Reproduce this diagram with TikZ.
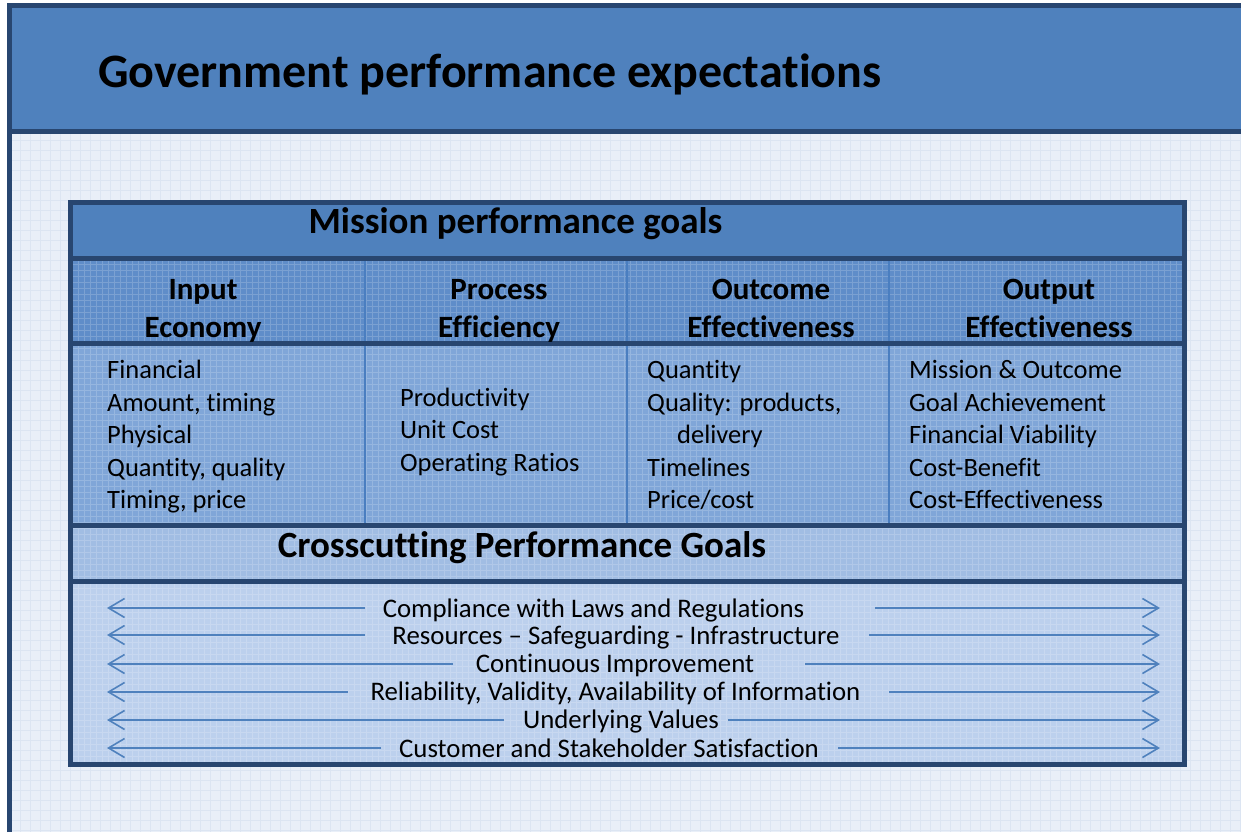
\documentclass[tikz,border=0pt]{standalone}
\usepackage{fontspec}
\setmainfont{Carlito}[Ligatures={NoCommon}]
\usetikzlibrary{arrows.meta}
\definecolor{dk}{HTML}{284670}
\definecolor{titlec}{HTML}{4F81BD}
\definecolor{bgc}{HTML}{E9EFF8}
\definecolor{bggrid}{HTML}{DCE5F2}
\definecolor{hdrc}{HTML}{5F8DC9}
\definecolor{cntc}{HTML}{80A6D8}
\definecolor{xhc}{HTML}{A1BDE3}
\definecolor{xbc}{HTML}{BCD0ED}
\definecolor{divc}{HTML}{4A7EC0}
\definecolor{arrc}{HTML}{4F81BD}
\begin{document}
\begin{tikzpicture}[x=1pt,y=-1pt,
  titlefont/.style={font=\fontsize{48}{56}\selectfont\bfseries, inner sep=0pt},
  bighead/.style={font=\fontsize{37}{44}\selectfont\bfseries, inner sep=0pt, anchor=base},
  colhead/.style={font=\fontsize{31}{36}\selectfont\bfseries, inner sep=0pt, anchor=base},
  celltext/.style={font=\fontsize{26.5}{30}\selectfont, inner sep=0pt, anchor=base west},
  crosstext/.style={font=\fontsize{26.8}{30}\selectfont, inner sep=0pt, anchor=base},
  arr/.style={-{Straight Barb[length=16pt,width=19pt]}, line width=1.6pt, draw=arrc},
  border/.style={draw=dk, line width=5pt},
  divider/.style={draw=divc, line width=1.5pt}]
\useasboundingbox (0,0) rectangle (1241,832);
% page and frame
\fill[white] (0,0) rectangle (1241,832);
\fill[bgc] (10,131) rectangle (1241,832);
\draw[bggrid, line width=0.7pt, step=10pt] (12,134) grid (1241,832);
\fill[titlec] (10,5) rectangle (1241,131);
\draw[border] (9.5,832) -- (9.5,5.5) -- (1241,5.5);
\draw[border] (7,131.5) -- (1241,131.5);
\node[titlefont, anchor=base west] (title) at (98,88) {Government performance expectations};
% table rows
\fill[titlec] (70,202) rectangle (1184,258);
\fill[hdrc] (70,258) rectangle (1184,343);
\fill[cntc] (70,343) rectangle (1184,525);
\fill[xhc] (70,525) rectangle (1184,581);
\fill[xbc] (70,581) rectangle (1184,765);
\draw[white, opacity=0.18, line width=0.6pt, step=6pt] (72,260) grid (1182,763);
\draw[divider] (365,258) -- (365,525);
\draw[divider] (627,258) -- (627,525);
\draw[divider] (889,258) -- (889,525);
\draw[border] (70.5,202.5) rectangle (1184,764.5);
\draw[border] (70.5,258) -- (1184,258);
\draw[border] (70.5,343.5) -- (1184,343.5);
\draw[border] (70.5,525) -- (1184,525);
\draw[border] (70.5,581) -- (1184,581);
% headings
\node[bighead] (mission) at (515.5,233) {Mission performance goals};
\node[colhead] (inA) at (203,299) {Input};
\node[colhead] (inB) at (203,337) {Economy};
\node[colhead] (prA) at (499,299) {Process};
\node[colhead] (prB) at (499,337) {Efficiency};
\node[colhead] (ocA) at (771,299) {Outcome};
\node[colhead] (ocB) at (771,337) {Effectiveness};
\node[colhead] (opA) at (1049,299) {Output};
\node[colhead] (opB) at (1049,337) {Effectiveness};
% column 1
\node[celltext] (a1) at (107,378) {Financial};
\node[celltext] (a2) at (107,411) {Amount, timing};
\node[celltext] (a3) at (107,443) {Physical};
\node[celltext] (a4) at (107,476) {Quantity, quality};
\node[celltext] (a5) at (107,508) {Timing, price};
% column 2
\node[celltext] (b1) at (400,406) {Productivity};
\node[celltext] (b2) at (400,438) {Unit Cost};
\node[celltext] (b3) at (400,471) {Operating Ratios};
% column 3
\node[celltext] (c1) at (647,378) {Quantity};
\node[celltext] (c2) at (647,411) {Quality: products,};
\node[celltext] (c3) at (677,443) {delivery};
\node[celltext] (c4) at (647,476) {Timelines};
\node[celltext] (c5) at (647,508) {Price/cost};
% column 4
\node[celltext] (d1) at (909,378) {Mission \& Outcome};
\node[celltext] (d2) at (909,411) {Goal Achievement};
\node[celltext] (d3) at (909,443) {Financial Viability};
\node[celltext] (d4) at (909,476) {Cost-Benefit};
\node[celltext] (d5) at (909,508) {Cost-Effectiveness};
% crosscutting
\node[bighead] (cross) at (522,557) {Crosscutting Performance Goals};
\node[crosstext] (x1) at (593.5,617) {Compliance with Laws and Regulations};
\node[crosstext] (x2) at (616,644) {Resources – Safeguarding - Infrastructure};
\node[crosstext] (x3) at (615,672) {Continuous Improvement};
\node[crosstext] (x4) at (615.5,700) {Reliability, Validity, Availability of Information};
\node[crosstext] (x5) at (621,728) {Underlying Values};
\node[crosstext] (x6) at (609,757) {Customer and Stakeholder Satisfaction};
% arrow end points
\coordinate (L1) at (107,608); \coordinate (R1) at (1160,608);
\coordinate (L2) at (107,635); \coordinate (R2) at (1160,635);
\coordinate (L3) at (107,664); \coordinate (R3) at (1160,664);
\coordinate (L4) at (107,692); \coordinate (R4) at (1160,692);
\coordinate (L5) at (107,720); \coordinate (R5) at (1160,720);
\coordinate (L6) at (107,748); \coordinate (R6) at (1160,748);
\coordinate (p1) at (365,608); \coordinate (q1) at (875,608);
\coordinate (p2) at (365,635); \coordinate (q2) at (869,635);
\coordinate (p3) at (453,664); \coordinate (q3) at (805,664);
\coordinate (p4) at (348,692); \coordinate (q4) at (889,692);
\coordinate (p5) at (504,720); \coordinate (q5) at (728,720);
\coordinate (p6) at (381,748); \coordinate (q6) at (838,748);
\foreach \i in {1,...,6}{
  \draw[arr] (p\i) -- (L\i);
  \draw[arr] (q\i) -- (R\i);
}
\end{tikzpicture}
\end{document}
